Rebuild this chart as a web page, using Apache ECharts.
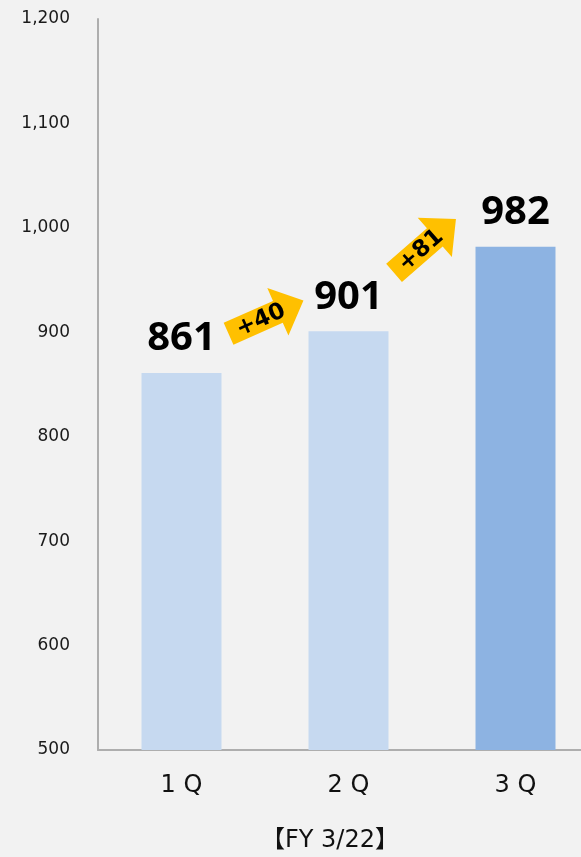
<!DOCTYPE html>
<html>
<head>
<meta charset="utf-8">
<style>
html,body{margin:0;padding:0;background:#f2f2f2;}
#chart{width:581px;height:857px;}
</style>
<script src="https://cdn.jsdelivr.net/npm/echarts@6/dist/echarts.min.js"></script>
</head>
<body>
<div id="chart"></div>
<script>
const categories = ['1 Q', '2 Q', '3 Q'];
const values = [861, 901, 982];
const yTicks = { min: 500, max: 1200, interval: 100 };
const periodLabel = '【FY 3/22】';

const barColors = ['#c6d9f0', '#c6d9f0', '#8db3e2'];
const arrowStyle = [
  { dx: 1, dy: -35, angle: 24 },
  { dx: -7, dy: -43, angle: 41 }
];

const chart = echarts.init(document.getElementById('chart'), null, { renderer: 'canvas' });

const option = {
  backgroundColor: '#f2f2f2',
  animation: false,
  grid: { left: 98, top: 19, width: 501, height: 731, containLabel: false, outerBoundsMode: 'none' },
  xAxis: {
    type: 'category',
    data: categories,
    axisLine: { show: true, lineStyle: { color: '#aeaeae', width: 2 } },
    axisTick: { show: false },
    axisLabel: { color: '#111', fontSize: 24, fontFamily: 'DejaVu Sans', margin: 24 }
  },
  yAxis: {
    type: 'value',
    min: yTicks.min, max: yTicks.max, interval: yTicks.interval,
    splitLine: { show: false },
    axisLine: { show: true, lineStyle: { color: '#aeaeae', width: 2 } },
    axisTick: { show: false },
    axisLabel: {
      color: '#1a1a1a', fontSize: 17, fontFamily: 'DejaVu Sans', margin: 28,
      formatter: v => v.toLocaleString('en-US')
    }
  },
  series: [
    {
      type: 'bar',
      barWidth: 80,
      data: values.map((v, i) => ({ value: v, itemStyle: { color: barColors[i] } })),
      label: {
        show: true, position: 'top', distance: 14,
        color: '#000', fontSize: 40, fontWeight: 'bold', fontFamily: 'Noto Sans'
      },
      z: 2
    },
    {
      type: 'custom',
      coordinateSystem: 'cartesian2d',
      data: values.slice(1).map((v, i) => [i, v - values[i]]),
      clip: false,
      z: 5,
      renderItem: function (params, api) {
        const i = api.value(0);
        const delta = api.value(1);
        const p1 = api.coord([i, values[i]]);
        const p2 = api.coord([i + 1, values[i + 1]]);
        const st = arrowStyle[i];
        const cx = (p1[0] + p2[0]) / 2 + st.dx;
        const cy = (p1[1] + p2[1]) / 2 + st.dy;
        const L = 82, sw = 12, hw = 26, hl = 28;
        const pts = [
          [-L / 2, -sw], [L / 2 - hl, -sw], [L / 2 - hl, -hw], [L / 2, 0],
          [L / 2 - hl, hw], [L / 2 - hl, sw], [-L / 2, sw]
        ];
        return {
          type: 'group',
          x: cx, y: cy,
          rotation: st.angle * Math.PI / 180,
          children: [
            { type: 'polygon', shape: { points: pts }, style: { fill: '#ffc000' } },
            {
              type: 'text', x: -6, y: 1,
              style: {
                text: '+' + delta, fill: '#000', fontSize: 23, fontWeight: 'bold',
                fontFamily: 'DejaVu Sans', align: 'center', verticalAlign: 'middle'
              }
            }
          ]
        };
      }
    }
  ],
  graphic: [
    {
      type: 'text', x: 330, y: 841,
      style: {
        text: periodLabel, fill: '#111', fontSize: 24, fontFamily: 'DejaVu Sans, Noto Sans CJK JP',
        align: 'center', verticalAlign: 'middle'
      }
    }
  ]
};
chart.setOption(option);
</script>
</body>
</html>
